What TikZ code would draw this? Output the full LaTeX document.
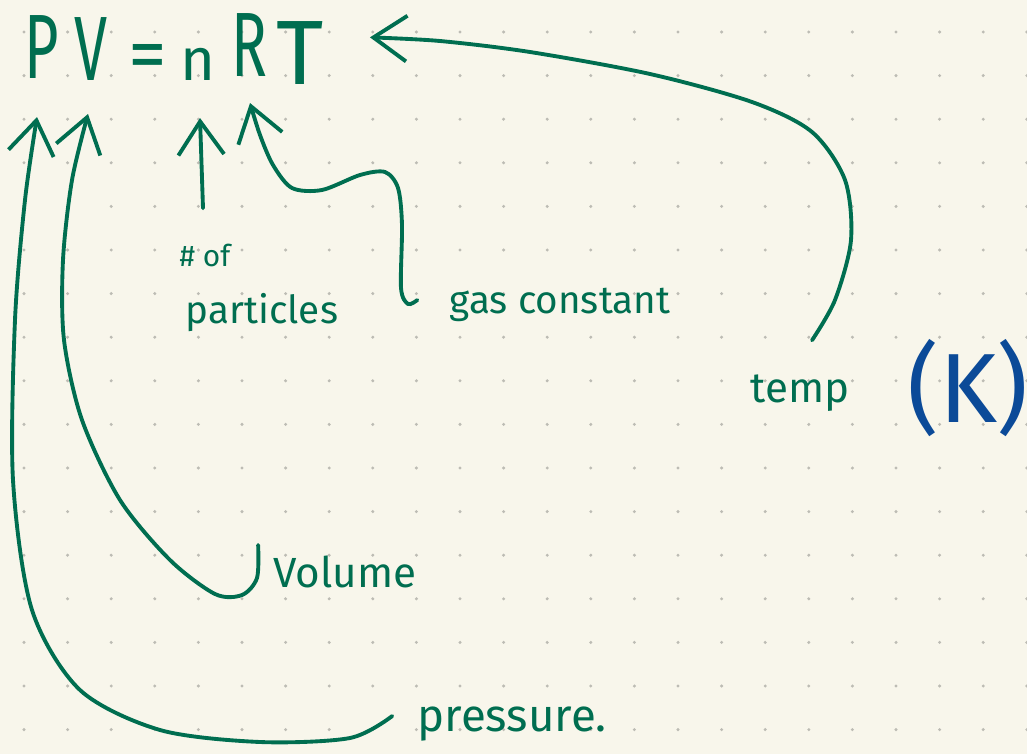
\documentclass[tikz,border=0pt]{standalone}
\usepackage{fontspec}
\setmainfont{Fira Sans}
\usetikzlibrary{arrows.meta,calc}
\definecolor{ink}{HTML}{006E50}
\definecolor{kblue}{HTML}{0B4A98}
\definecolor{paper}{HTML}{F8F6EB}
\definecolor{dotgrey}{HTML}{BDBCB4}
\tikzstyle{line} = [draw=ink, line width=2.2pt, line cap=round, line join=round, -{Straight Barb[length=19pt,width=26pt]}]
\tikzstyle{letter} = [inner sep=0pt, anchor=south, text=ink, font=\fontsize{52}{56}\selectfont]
\tikzstyle{narrow} = [xscale=0.65]
\tikzstyle{note} = [inner sep=0pt, text=ink, font=\fontsize{22}{26}\selectfont]

\begin{document}
\begin{tikzpicture}[x=0.02cm, y=-0.02cm]
        \fill[paper] (0,0) rectangle (1027,754);
        \useasboundingbox (0,0) rectangle (1027,754);
        % dotted paper
        \foreach \i in {0,...,23}
            \foreach \j in {0,...,16}
                \fill[dotgrey] ({24+43.6*\i},{32+43.6*\j}) circle (0.95pt);
        % the equation
        \node[letter, narrow] (P) at (42,79) {P};
        \node[letter, narrow] (V) at (91,81) {V};
        \node[letter, anchor=center, font=\fontsize{44}{48}\selectfont] (eq) at (148,62) {=};
        \node[letter, font=\fontsize{34}{38}\selectfont] (n) at (198,81) {n};
        \node[letter, narrow] (R) at (249,77) {R};
        \node[letter] (T) at (300,85) {T};
        % what the letters mean
        \node[note, font=\fontsize{17}{20}\selectfont] (hash) at (205,255) {\# of};
        \node[note] (particles) at (262,313) {particles};
        \node[note] (gas) at (560,305) {gas constant};
        \node[note, font=\fontsize{24}{28}\selectfont] (temp) at (800,393) {temp};
        \node[note, text=kblue, font=\fontsize{56}{60}\selectfont] (kelvin) at (968,388) {(K)};
        \node[note, font=\fontsize{24}{28}\selectfont] (volume) at (345,572) {Volume};
        \node[note, font=\fontsize{26}{30}\selectfont] (pressure) at (512,724) {pressure.};
        % ends of the curves
        \coordinate (pS) at ($(pressure.west)+(-25,-8)$);
        \coordinate (pE) at ($(P.south)+(-5,38)$);
        \coordinate (vS) at ($(volume.west)+(-15,-27)$);
        \coordinate (vE) at ($(V.south)+(-3,33)$);
        \coordinate (nS) at ($(hash.north)+(-2,-35)$);
        \coordinate (nE) at ($(n.south)+(2,37)$);
        \coordinate (rS) at ($(gas.west)+(-32,-5)$);
        \coordinate (rE) at ($(R.south)+(1,26)$);
        \coordinate (tS) at ($(temp.north)+(12,-34)$);
        \coordinate (tE) at ($(T.north east)+(46,16)$);
        \path[line] plot[smooth] coordinates {(pS) (350,738) (260,742) (160,730) (80,690) (32,610) (13,480) (15,320) (25,200) (pE)};
        \path[line] plot[smooth] coordinates {(vS) (257,578) (242,595) (215,594) (170,560) (120,500) (82,420) (64,340) (63,260) (72,180) (vE)};
        \path[line] (nS) -- (nE);
        \path[line] plot[smooth] coordinates {(rS) (408,304) (401,288) (402,225) (398,188) (385,172) (360,175) (322,190) (292,188) (273,165) (260,135) (rE)};
        \path[line] plot[smooth] coordinates {(tS) (835,300) (851,240) (845,180) (812,132) (752,102) (650,74) (530,52) (440,41) (tE)};
    \end{tikzpicture}
\end{document}
